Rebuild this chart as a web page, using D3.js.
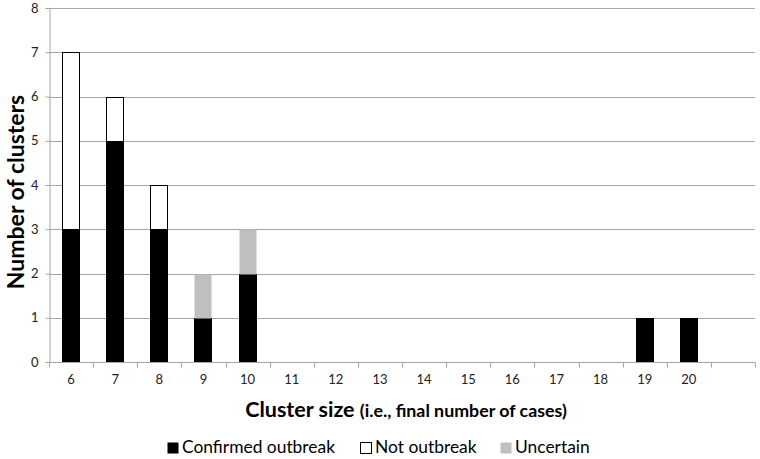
<!DOCTYPE html>
<html><head><meta charset="utf-8">
<script src="https://cdn.jsdelivr.net/npm/d3@7"></script>
<style>body{margin:0;background:#fff}svg{display:block}text{font-family:Lato,"Open Sans",sans-serif}</style>
</head><body><svg id="c" width="760" height="459"></svg>
<script>
const categories = ["6","7","8","9","10","11","12","13","14","15","16","17","18","19","20",""];
const confirmed = [3,5,3,1,2,0,0,0,0,0,0,0,0,1,1,0];
const notOutbreak = [4,1,1,0,0,0,0,0,0,0,0,0,0,0,0,0];
const uncertain = [0,0,0,1,1,0,0,0,0,0,0,0,0,0,0,0];
const yTicks = [0,1,2,3,4,5,6,7,8];
const seriesNames = ["Confirmed outbreak","Not outbreak","Uncertain"];
const seriesColors = ["#000000","#ffffff","#bfbfbf"];

const svg = d3.select("#c");
const m = {l:49, r:5, t:8, b:97};
const W = 760, H = 459;
const xb = d3.scaleBand().domain(categories.map((c,i)=>i)).range([m.l, W-m.r]);
const y = d3.scaleLinear().domain([0,8]).range([H-m.b, m.t]);

// gridlines
svg.append("g").selectAll("line").data(yTicks.filter(d=>d>0)).join("line")
  .attr("x1", m.l).attr("x2", W-m.r).attr("y1", d=>Math.round(y(d))+0.5).attr("y2", d=>Math.round(y(d))+0.5)
  .attr("stroke","#a6a6a6").attr("stroke-width",1);

// stacked bars
const rows = categories.map((c,i)=>({i, confirmed:confirmed[i], notOutbreak:notOutbreak[i], uncertain:uncertain[i]}));
const stack = d3.stack().keys(["confirmed","notOutbreak","uncertain"])(rows);
const strokes = ["#000","#000","none"];
stack.forEach((layer,k)=>{
  svg.append("g").selectAll("rect").data(layer.filter(d=>d[1]>d[0])).join("rect")
    .attr("x", d=>Math.round(xb(d.data.i)+xb.bandwidth()/2-9)+0.5)
    .attr("width", 17)
    .attr("y", d=>Math.round(y(d[1]))+0.5)
    .attr("height", d=>Math.round(y(d[0]))-Math.round(y(d[1])))
    .attr("fill", seriesColors[k]).attr("stroke", strokes[k]).attr("stroke-width",1);
});

// y axis
const ya = svg.append("g").attr("transform",`translate(${m.l+0.5},0)`)
  .call(d3.axisLeft(y).tickValues(yTicks).tickSize(4).tickFormat(d3.format("d")));
ya.select(".domain").attr("stroke","#a6a6a6");
ya.selectAll(".tick line").attr("stroke","#a6a6a6");
ya.selectAll(".tick text").attr("font-size",13).attr("fill","#222").attr("x",-11)
  .style("font-family","Lato,'Open Sans',sans-serif");

// x axis
const xa = svg.append("g").attr("transform",`translate(0,${Math.round(y(0))+0.5})`);
xa.append("line").attr("x1",m.l).attr("x2",W-m.r).attr("y1",0).attr("y2",0).attr("stroke","#a6a6a6");
const bounds = categories.map((c,i)=>xb(i)).concat([xb(categories.length-1)+xb.bandwidth()]);
xa.selectAll("line.t").data(bounds).join("line").attr("class","t")
  .attr("x1",d=>Math.round(d)+0.5).attr("x2",d=>Math.round(d)+0.5).attr("y1",0).attr("y2",5).attr("stroke","#a6a6a6");
xa.selectAll("text").data(categories).join("text")
  .attr("x",(d,i)=>xb(i)+xb.bandwidth()/2).attr("y",21).attr("text-anchor","middle")
  .attr("font-size",13).attr("fill","#222").text(d=>d);

// axis titles
svg.append("text").attr("transform","translate(24,192) rotate(-90)").attr("text-anchor","middle")
  .attr("font-size",23).attr("font-weight","bold").attr("fill","#000").text("Number of clusters");
const xt = svg.append("text").attr("x",406).attr("y",417).attr("text-anchor","middle").attr("font-weight","bold").attr("fill","#000");
xt.append("tspan").attr("font-size",21.5).text("Cluster size ");
xt.append("tspan").attr("font-size",17.8).text("(i.e., final number of cases)");

// legend
const legX = [167, 360, 500];
const lg = svg.append("g");
seriesNames.forEach((n,k)=>{
  lg.append("rect").attr("x",legX[k]+0.5).attr("y",442.5).attr("width",11).attr("height",11)
    .attr("fill",seriesColors[k]).attr("stroke", k===1?"#000":"none");
  lg.append("text").attr("x",legX[k]+15).attr("y",453).attr("font-size",17.4).attr("fill","#000").text(n);
});
</script></body></html>
